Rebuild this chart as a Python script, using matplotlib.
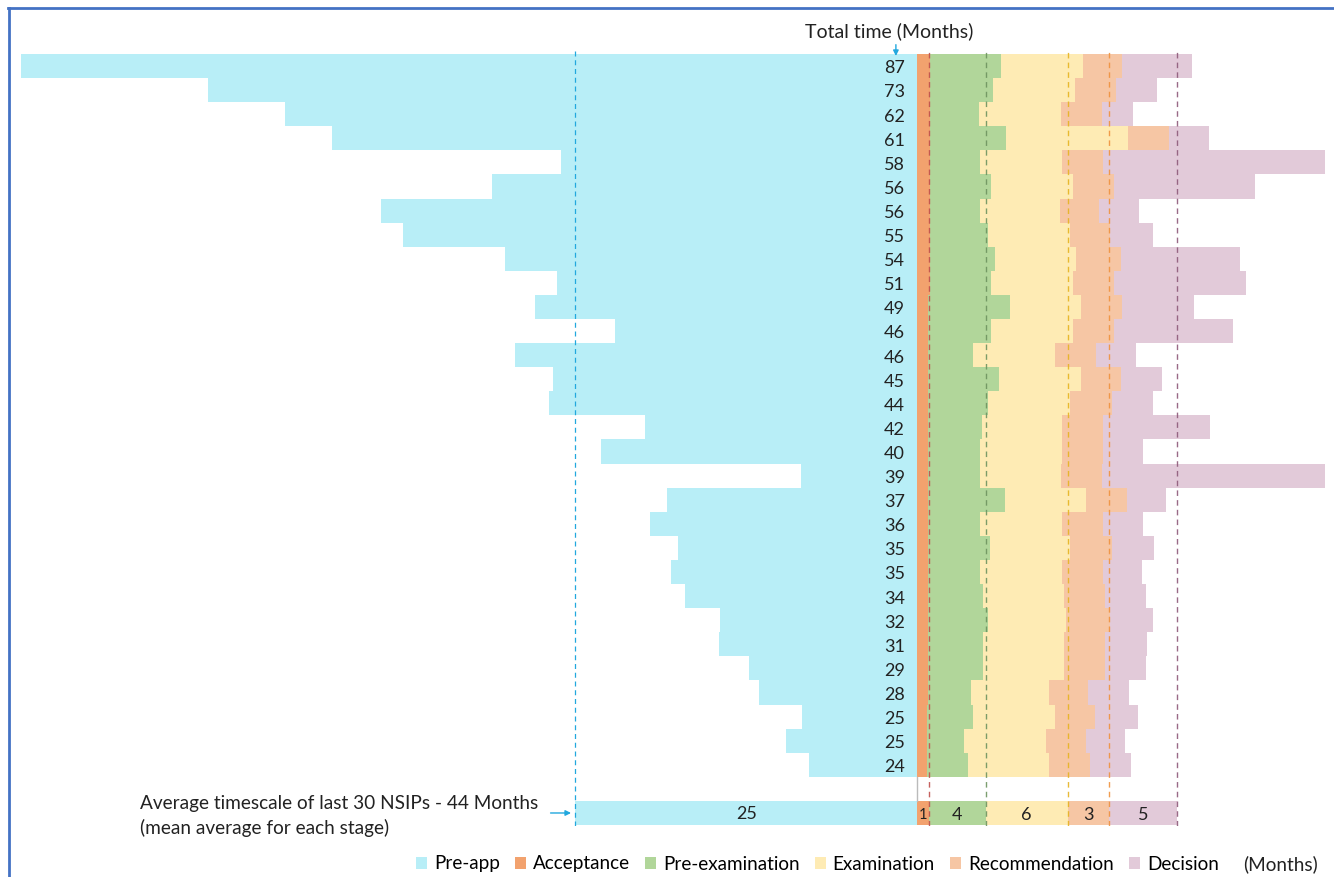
import numpy as np
import matplotlib
matplotlib.use('Agg')
import matplotlib.pyplot as plt
from matplotlib.patches import Patch
from matplotlib.lines import Line2D

plt.rcParams['font.family'] = ['Lato', 'DejaVu Sans']

# total time label per project (months)
totals = [87, 73, 62, 61, 58, 56, 56, 55, 54, 51, 49, 46, 46, 45, 44,
          42, 40, 39, 37, 36, 35, 35, 34, 32, 31, 29, 28, 25, 25, 24]

# stage durations per project (months)
pre_app = [67.0, 51.8, 46.2, 42.8, 26.0, 31.1, 39.2, 37.6, 30.1, 26.3,
           27.9, 22.1, 29.4, 26.6, 26.9, 19.9, 23.1, 8.5, 18.3, 19.5,
           17.5, 18.0, 17.0, 14.4, 14.5, 12.3, 11.6, 8.4, 9.6, 7.9]
acceptance = [0.9, 0.9, 0.9, 0.9, 0.9, 0.9, 0.9, 0.9, 0.9, 0.9,
              0.8, 0.8, 0.8, 0.8, 0.8, 0.8, 0.8, 0.8, 0.8, 0.8,
              0.8, 0.8, 0.8, 0.8, 0.8, 0.8, 0.8, 0.7, 0.7, 0.7]
pre_exam = [5.2, 4.6, 3.6, 5.6, 3.7, 4.5, 3.7, 4.3, 4.8, 4.5,
            6.0, 4.6, 3.3, 5.2, 4.4, 3.9, 3.8, 3.8, 5.6, 3.8,
            4.5, 3.8, 4.0, 4.4, 4.0, 4.0, 3.1, 3.4, 2.7, 3.0]
examination = [6.0, 6.0, 6.0, 8.9, 6.0, 6.0, 5.8, 6.0, 5.9, 6.0,
               5.2, 6.0, 6.0, 6.0, 6.0, 5.9, 6.0, 5.9, 5.9, 6.0,
               5.9, 6.0, 5.9, 5.7, 5.9, 5.9, 5.7, 6.0, 6.0, 5.9]
recommendation = [2.9, 3.0, 3.0, 3.0, 3.0, 3.0, 2.9, 2.9, 3.3, 3.0,
                  3.0, 3.0, 3.0, 2.9, 3.0, 3.0, 3.0, 3.0, 3.0, 3.0,
                  3.0, 3.0, 3.0, 3.2, 3.0, 3.0, 2.9, 2.9, 2.9, 3.0]
decision = [5.1, 3.0, 2.3, 2.9, 18.5, 10.3, 2.9, 3.1, 8.7, 9.6,
            5.2, 8.7, 2.9, 3.0, 3.0, 7.8, 2.9, 17.1, 2.9, 2.9,
            3.1, 2.8, 3.0, 3.1, 3.1, 3.0, 3.0, 3.1, 2.9, 3.0]

# mean average of last 30 NSIPs for each stage
stages = ['Pre-app', 'Acceptance', 'Pre-examination', 'Examination',
          'Recommendation', 'Decision']
avg_values = [25, 0.88, 4.12, 6.0, 3.0, 5.0]
avg_labels = ['25', '1', '4', '6', '3', '5']

colors = ['#B8EEF7', '#F2A26E', '#B1D69A', '#FEEBB4', '#F6C6A4', '#E2CAD9']
line_colors = ['#22A8DE', '#C0504D', '#6E9460', '#E6B422', '#F0923E', '#8E5A7A']

fig = plt.figure(figsize=(13.34, 8.77), dpi=100)
W, H = 1334, 877
ax = fig.add_axes([21 / W, (H - 826) / H, (1325 - 21) / W, (826 - 49) / H])

y = np.arange(len(totals))
right_stages = [acceptance, pre_exam, examination, recommendation, decision]

ax.barh(y, pre_app, left=-np.array(pre_app), height=1.0, color=colors[0], linewidth=0)
left = np.zeros(len(totals))
for vals, c in zip(right_stages, colors[1:]):
    ax.barh(y, vals, left=left, height=1.0, color=c, linewidth=0)
    left = left + np.array(vals)

# average bar
avg_y = 31.0
ax.barh(avg_y, avg_values[0], left=-avg_values[0], height=0.98, color=colors[0], linewidth=0)
ax.text(-avg_values[0] / 2, avg_y + 0.05, avg_labels[0], ha='center', va='center', fontsize=13, color='#222222')
cum = 0.0
for i in range(1, len(avg_values)):
    ax.barh(avg_y, avg_values[i], left=cum, height=0.98, color=colors[i], linewidth=0)
    fs = 10.5 if i == 1 else 13
    ax.text(cum + avg_values[i] / 2, avg_y + 0.08, avg_labels[i], ha='center', va='center',
            fontsize=fs, color='#222222')
    cum += avg_values[i]

# dashed reference lines at the average stage boundaries
ax.axvline(-avg_values[0], color=line_colors[0], linestyle=(0, (4, 3)), linewidth=0.9, zorder=3)
cum = 0.0
for i in range(1, len(avg_values)):
    cum += avg_values[i]
    ax.axvline(cum, color=line_colors[i], linestyle=(0, (4, 3)), linewidth=1.0, alpha=0.9, zorder=3)

# thin axis line in the gap above the average bar
ax.plot([0, 0], [29.5, 30.52], color='#BBBBBB', linewidth=1.0, zorder=2)

# total labels
for yi, t in zip(y, totals):
    ax.text(-0.9, yi + 0.1, str(t), ha='right', va='center', fontsize=13, color='#222222', zorder=4)

ax.set_xlim(-65.5, 29.8)
ax.set_ylim(31.54, -0.705)
ax.axis('off')

# header and arrows
fig.text(889 / W, 1 - 31 / H, 'Total time (Months)', ha='center', va='center', fontsize=14, color='#222222')
ax.annotate('', xy=(-1.56, -0.3), xytext=(-1.56, -1.0), annotation_clip=False,
            arrowprops=dict(arrowstyle='-|>', color='#22A8DE', lw=1.0, mutation_scale=8))
ax.annotate('', xy=(-25.1, avg_y), xytext=(-27.0, avg_y), annotation_clip=False,
            arrowprops=dict(arrowstyle='-|>', color='#22A8DE', lw=1.0, mutation_scale=8))

fig.text(140 / W, 1 - 803 / H, 'Average timescale of last 30 NSIPs - 44 Months',
         ha='left', va='center', fontsize=13.7, color='#222222')
fig.text(140 / W, 1 - 828 / H, '(mean average for each stage)',
         ha='left', va='center', fontsize=13.7, color='#222222')

# legend
handles = [Patch(facecolor=c, edgecolor='none') for c in colors]
fig.legend(handles, stages, ncol=6, loc='center left', bbox_to_anchor=(416 / W, 1 - 864 / H),
           frameon=False, fontsize=13.6, handlelength=0.6, handleheight=0.6,
           handletextpad=0.35, columnspacing=0.8, borderaxespad=0, borderpad=0)
fig.text(1243 / W, 1 - 864 / H, '(Months)', ha='left', va='center', fontsize=13.6, color='#222222')

# slide frame
fig.add_artist(Line2D([8 / W, 1], [1 - 8 / H, 1 - 8 / H], color='#4472C4', linewidth=2.0))
fig.add_artist(Line2D([9 / W, 9 / W], [0, 1 - 8 / H], color='#4472C4', linewidth=2.0))

fig.savefig('out.png', dpi=100)
